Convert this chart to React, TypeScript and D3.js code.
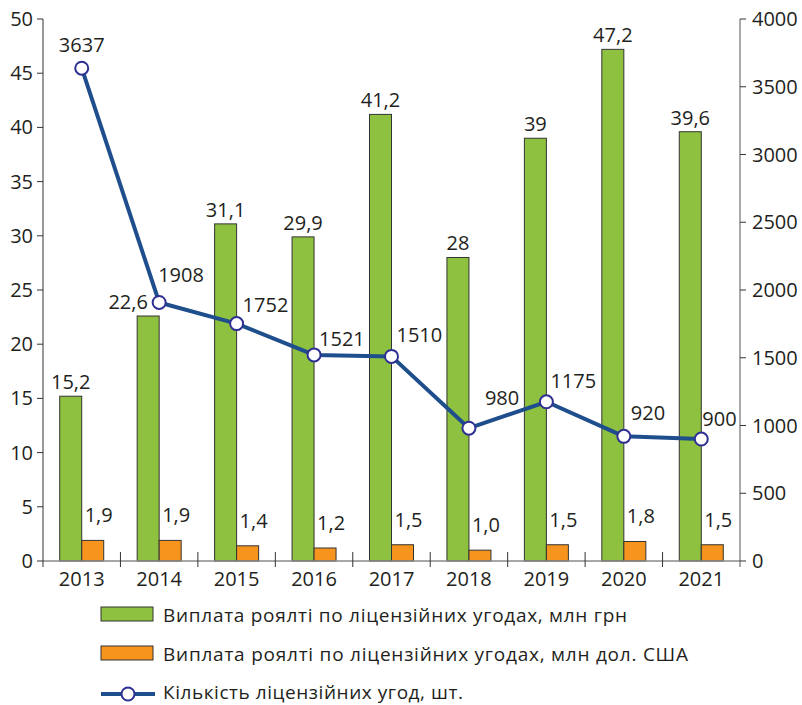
import React from "react";
import * as d3 from "d3";

const years = ["2013", "2014", "2015", "2016", "2017", "2018", "2019", "2020", "2021"];
const royaltyUah = [15.2, 22.6, 31.1, 29.9, 41.2, 28, 39, 47.2, 39.6];
const royaltyUsd = [1.9, 1.9, 1.4, 1.2, 1.5, 1.0, 1.5, 1.8, 1.5];
const agreements = [3637, 1908, 1752, 1521, 1510, 980, 1175, 920, 900];
const leftTicks = [0, 5, 10, 15, 20, 25, 30, 35, 40, 45, 50];
const rightTicks = [0, 500, 1000, 1500, 2000, 2500, 3000, 3500, 4000];
const legendLabels = [
  "Виплата роялті по ліцензійних угодах, млн грн",
  "Виплата роялті по ліцензійних угодах, млн дол. США",
  "Кількість ліцензійних угод, шт.",
];

// label nudges (styling only): [dx, dy, anchor]
const lineLabelNudge: [number, number, string][] = [
  [0, -16, "middle"],
  [-1, -20, "start"],
  [6, -12, "start"],
  [5, -9, "start"],
  [5, -14, "start"],
  [16, -23, "start"],
  [4, -14, "start"],
  [7, -16, "start"],
  [1, -13, "start"],
];
const greenLabelDx = [0, -20, 0, 0, 0, 0, 0, 0, 0];

const fmt = (v: number) => v.toString().replace(".", ",");
const fmt1 = (v: number) => v.toFixed(1).replace(".", ",");

const W = 802;
const H = 705;
const left = 43;
const right = 740;
const top = 19;
const bottom = 561;
const FONT = "'Open Sans', sans-serif";
const TXT = "#231f20";
const GREEN = "#8dc13f";
const ORANGE = "#f7941d";
const LINE = "#1f4e8c";
const MARK = "#2e3192";

export default function App() {
  const x = d3.scaleBand<string>().domain(years).range([left, right]).paddingInner(0).paddingOuter(0);
  const yL = d3.scaleLinear().domain([0, 50]).range([bottom, top]);
  const yR = d3.scaleLinear().domain([0, 4000]).range([bottom, top]);
  const bw = 22;
  const cx = (i: number) => (x(years[i]) as number) + x.bandwidth() / 2;
  const line = d3
    .line<number>()
    .x((_, i) => cx(i))
    .y((d) => yR(d));

  return (
    <svg width={W} height={H} style={{ position: "absolute", left: 0, top: 0 }} fontFamily={FONT}>
      <rect width={W} height={H} fill="#fff" />
      {/* bars */}
      {years.map((yr, i) => (
        <g key={yr}>
          <rect
            x={cx(i) - bw}
            y={yL(royaltyUah[i])}
            width={bw}
            height={bottom - yL(royaltyUah[i])}
            fill={GREEN}
            stroke="#333"
            strokeWidth={1}
          />
          <rect
            x={cx(i)}
            y={yL(royaltyUsd[i])}
            width={bw}
            height={bottom - yL(royaltyUsd[i])}
            fill={ORANGE}
            stroke="#333"
            strokeWidth={1}
          />
          <text
            x={cx(i) - bw / 2 + greenLabelDx[i]}
            y={yL(royaltyUah[i]) - 7}
            textAnchor="middle"
            fontSize={20}
            fill={TXT}
          >
            {fmt(royaltyUah[i])}
          </text>
          <text
            x={cx(i) + 17}
            y={yL(royaltyUsd[i]) - 18}
            textAnchor="middle"
            fontSize={20}
            fill={TXT}
          >
            {fmt1(royaltyUsd[i])}
          </text>
        </g>
      ))}
      {/* x axis */}
      <line x1={left} x2={right} y1={bottom} y2={bottom} stroke="#8a8a8a" strokeWidth={1.5} />
      {years.map((yr, i) => (
        <g key={"xt" + yr}>
          {i > 0 && (
            <line x1={x(yr)} x2={x(yr)} y1={bottom - 9} y2={bottom + 6} stroke="#333" strokeWidth={1} />
          )}
          <text x={cx(i)} y={bottom + 25} textAnchor="middle" fontSize={20} fill={TXT}>
            {yr}
          </text>
        </g>
      ))}
      {/* left axis */}
      <line x1={left} x2={left} y1={top} y2={bottom + 6} stroke="#333" strokeWidth={1} />
      {leftTicks.map((t) => (
        <g key={"l" + t}>
          <line x1={left - 6} x2={left} y1={yL(t)} y2={yL(t)} stroke="#333" strokeWidth={1} />
          <text x={left - 10} y={yL(t) + 7} textAnchor="end" fontSize={20} fill={TXT}>
            {t}
          </text>
        </g>
      ))}
      {/* right axis */}
      <line x1={right} x2={right} y1={top} y2={bottom + 6} stroke="#555" strokeWidth={1} />
      {rightTicks.map((t) => (
        <g key={"r" + t}>
          <line x1={right} x2={right + 6} y1={yR(t)} y2={yR(t)} stroke="#333" strokeWidth={1} />
          <text x={right + 12} y={yR(t) + 7} textAnchor="start" fontSize={20} fill={TXT}>
            {t}
          </text>
        </g>
      ))}
      {/* line */}
      <path d={line(agreements) || ""} fill="none" stroke={LINE} strokeWidth={4} strokeLinejoin="round" />
      {agreements.map((v, i) => (
        <g key={"p" + i}>
          <circle cx={cx(i)} cy={yR(v)} r={6.5} fill="#fff" stroke={MARK} strokeWidth={2} />
          <text
            x={cx(i) + lineLabelNudge[i][0]}
            y={yR(v) + lineLabelNudge[i][1]}
            textAnchor={lineLabelNudge[i][2] as any}
            fontSize={20}
            fill={TXT}
          >
            {v}
          </text>
        </g>
      ))}
      {/* legend */}
      <rect x={101} y={607} width={52} height={14} fill={GREEN} stroke="#333" strokeWidth={1} />
      <text x={163} y={622} fontSize={19} fill={TXT} textLength={464} lengthAdjust="spacing">
        {legendLabels[0]}
      </text>
      <rect x={101} y={646} width={52} height={14} fill={ORANGE} stroke="#333" strokeWidth={1} />
      <text x={163} y={661} fontSize={19} fill={TXT} textLength={525} lengthAdjust="spacing">
        {legendLabels[1]}
      </text>
      <line x1={101} x2={155} y1={694} y2={694} stroke={LINE} strokeWidth={4} />
      <circle cx={128} cy={694} r={6.5} fill="#fff" stroke={MARK} strokeWidth={2} />
      <text x={163} y={699} fontSize={19} fill={TXT} textLength={300} lengthAdjust="spacing">
        {legendLabels[2]}
      </text>
    </svg>
  );
}
